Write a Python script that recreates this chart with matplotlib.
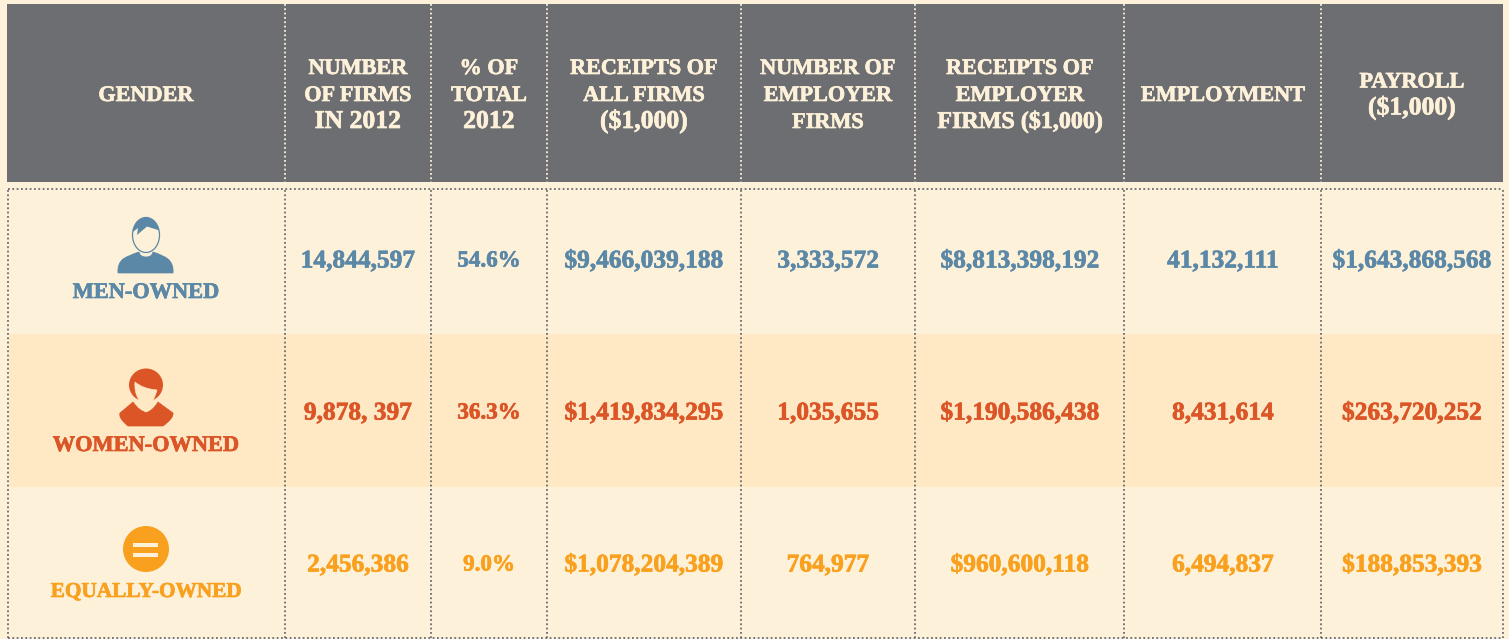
import numpy as np
import matplotlib
matplotlib.use("Agg")
import matplotlib.pyplot as plt
import matplotlib.patheffects as pe
from matplotlib.patches import Rectangle, Ellipse, Circle, Polygon, PathPatch
from matplotlib.path import Path

# table content
headers = ["GENDER", "NUMBER\nOF FIRMS\nIN 2012", "% OF\nTOTAL\n2012", "RECEIPTS OF\nALL FIRMS\n($1,000)",
           "NUMBER OF\nEMPLOYER\nFIRMS", "RECEIPTS OF\nEMPLOYER\nFIRMS ($1,000)", "EMPLOYMENT", "PAYROLL\n($1,000)"]
genders = ["MEN-OWNED", "WOMEN-OWNED", "EQUALLY-OWNED"]
men = ["14,844,597", "54.6%", "$9,466,039,188", "3,333,572", "$8,813,398,192", "41,132,111", "$1,643,868,568"]
women = ["9,878, 397", "36.3%", "$1,419,834,295", "1,035,655", "$1,190,586,438", "8,431,614", "$263,720,252"]
equal = ["2,456,386", "9.0%", "$1,078,204,389", "764,977", "$960,600,118", "6,494,837", "$188,853,393"]

# layout in pixels
col_edges = [7, 285, 431, 547, 741, 915, 1124, 1321, 1503]
col_mid = [146, 358, 489, 644, 828, 1020, 1223, 1412]
val_y = [261, 413, 565]
lab_y = [293, 446, 592]
lab_size = [16.1, 16.1, 15.3]

BG = "#fef1d9"
ALT = "#fee9c4"
GREY = "#6d6e72"
DOT = "#6a6b70"
BLUE = "#5b88a6"
RED = "#db5527"
ORANGE = "#f9a11e"
FONT = ["Liberation Serif", "DejaVu Serif"]

fig = plt.figure(figsize=(15.09, 6.39), dpi=100, facecolor=BG)
ax = fig.add_axes([0, 0, 1, 1])
ax.set_xlim(0, 1509)
ax.set_ylim(639, 0)
ax.axis("off")

# backgrounds
ax.add_patch(Rectangle((7, 4), 1496, 178, fc=GREY, ec="none", zorder=1))
ax.add_patch(Rectangle((9, 334), 1494, 153, fc=ALT, ec="none", zorder=1))

# dotted lines
dots = dict(lw=1.3, ls=(0, (1, 1.4)), zorder=3)
for x in col_edges[1:-1]:
    ax.plot([x, x], [4, 182], color=BG, **dots)
for x in col_edges:
    ax.plot([x + (1 if x == 7 else 0)] * 2, [190, 638], color=DOT, **dots)
ax.plot([8, 1503], [189, 189], color=DOT, **dots)
ax.plot([8, 1503], [638, 638], color=DOT, **dots)


def label(x, y, s, col, size, va="center"):
    t = ax.text(x, y, s, ha="center", va=va, color=col, fontsize=size, fontweight="bold",
                family=FONT, zorder=4)
    t.set_path_effects([pe.withStroke(linewidth=0.5, foreground=col)])


# header lines are placed one by one, digits run larger than capitals here
for x, h in zip(col_mid, headers):
    lines = h.split("\n")
    for i, line in enumerate(lines):
        size = 16
        if any(c.isdigit() for c in line):
            size = 17.3 if "FIRMS" in line else 18.5
        label(x, 101 + (i - (len(lines) - 1) / 2) * 27, line, BG, size, va="baseline")

for vals, name, col, vy, ly, ls in zip([men, women, equal], genders, [BLUE, RED, ORANGE], val_y, lab_y, lab_size):
    label(col_mid[0], ly, name, col, ls)
    for x, v in zip(col_mid[1:], vals):
        label(x, vy, v, col, 16.6 if "%" in v else 18.3)


def blob(points, col, z=2):
    # closed smooth outline through quadratic segments
    verts = [points[0]]
    codes = [Path.MOVETO]
    for i in range(1, len(points) - 1, 2):
        verts += [points[i], points[i + 1]]
        codes += [Path.CURVE3, Path.CURVE3]
    patch = PathPatch(Path(verts + [points[0]], codes + [Path.CLOSEPOLY]), fc=col, ec=col, lw=0.5, zorder=z)
    ax.add_patch(patch)
    return patch


# man icon
blob([(118, 273), (117, 264), (123, 259), (129, 255), (139, 252), (140, 257), (146, 257), (152, 257), (153, 252),
      (163, 255), (168, 259), (174, 264), (173, 273), (146, 273), (118, 273)], BLUE)
ax.add_patch(Ellipse((146, 235), 27, 35, fc=BG, ec=BLUE, lw=0.9, zorder=2))
hair = Ellipse((146, 235), 27, 35, fc=BLUE, ec="none", zorder=3)
ax.add_patch(hair)
hair_clip = Polygon([(130, 212), (162, 212), (162, 231), (158, 230), (147, 226.5), (137, 235), (138, 228), (130, 234)],
                    transform=ax.transData)
hair.set_clip_path(hair_clip)

# woman icon
ax.add_patch(Ellipse((146, 385), 34, 33, fc=RED, ec="none", zorder=2))
blob([(128, 426), (118, 418), (120, 413), (126, 408), (133, 402), (140, 412), (146, 412), (152, 412), (158, 402),
      (166, 408), (173, 413), (174, 418), (163, 426), (146, 426), (128, 426)], RED)
blob([(135, 382), (134, 392), (139, 400), (141, 410), (146, 412), (152, 410), (153, 400), (155, 397), (157, 390),
      (143, 389), (135, 382)], ALT, z=3)

# equal icon
ax.add_patch(Circle((146, 549), 23, fc=ORANGE, ec="none", zorder=2))
ax.add_patch(Rectangle((133, 543), 25, 4, fc=BG, ec="none", zorder=3))
ax.add_patch(Rectangle((133, 553), 25, 4, fc=BG, ec="none", zorder=3))

fig.savefig("out.png", dpi=100, facecolor=BG)
